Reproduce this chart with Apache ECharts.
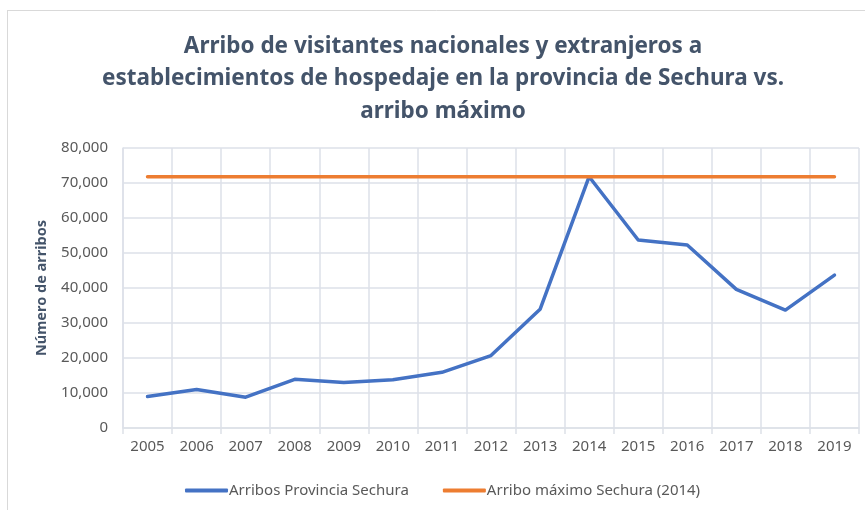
<!DOCTYPE html>
<html lang="es">
<head>
    <meta charset="UTF-8">
    <title>Arribos Sechura</title>
    <style>
        *{ padding:0; margin:0; }
        body{ background:#fff; }
    </style>
    <script src="https://cdn.jsdelivr.net/npm/echarts@6/dist/echarts.min.js"></script>
</head>
<body>
    <div id="main" style="width:865px;height:510px;"></div>
    <script>
        var years = ['2005','2006','2007','2008','2009','2010','2011','2012','2013','2014','2015','2016','2017','2018','2019'];
        var arribos = [9000, 11000, 8800, 13900, 13000, 13800, 15900, 20700, 33900, 71800, 53700, 52300, 39600, 33700, 43700];
        var maximo = [71800, 71800, 71800, 71800, 71800, 71800, 71800, 71800, 71800, 71800, 71800, 71800, 71800, 71800, 71800];
        var font = 'Noto Sans';

        var myChart = echarts.init(document.getElementById('main'));
        var option = {
            backgroundColor: '#fff',
            title: {
                text: 'Arribo de visitantes nacionales y extranjeros a\nestablecimientos de hospedaje en la provincia de Sechura vs.\narribo máximo',
                left: 443,
                textAlign: 'center',
                top: 25,
                padding: [5, 0, 5, 0],
                textStyle: {
                    color: '#44546A',
                    fontFamily: font,
                    fontWeight: 'bold',
                    fontSize: 22.5,
                    lineHeight: 32.5
                }
            },
            legend: {
                bottom: 12,
                left: 185,
                padding: 0,
                itemGap: 34,
                itemWidth: 43,
                itemHeight: 4,
                icon: 'roundRect',
                textStyle: { color: '#595959', fontFamily: font, fontSize: 15, padding: [0, 0, 0, -4] },
                data: ['Arribos Provincia Sechura', 'Arribo máximo Sechura (2014)']
            },
            grid: {
                left: 123,
                right: 6,
                top: 148,
                bottom: 82,
                containLabel: false
            },
            xAxis: {
                type: 'category',
                data: years,
                boundaryGap: true,
                axisLine: { show: true, lineStyle: { color: '#dde1e8', width: 1.5 } },
                axisTick: { show: true, length: 6, lineStyle: { color: '#dde1e8', width: 1.5 } },
                splitLine: { show: true, lineStyle: { color: '#dde1e8', width: 1.5 } },
                axisLabel: { color: '#595959', fontFamily: font, fontSize: 15, margin: 11 }
            },
            yAxis: {
                type: 'value',
                min: 0,
                max: 80000,
                interval: 10000,
                name: 'Número de arribos',
                nameLocation: 'middle',
                nameGap: 74,
                nameTextStyle: { color: '#44546A', fontFamily: font, fontWeight: 'bold', fontSize: 14.5 },
                axisLine: { show: true, lineStyle: { color: '#dde1e8', width: 1.5 } },
                axisTick: { show: false },
                splitLine: { lineStyle: { color: '#dde1e8', width: 1.5 } },
                axisLabel: {
                    color: '#595959', fontFamily: font, fontSize: 15, margin: 15,
                    formatter: function (v) { return v.toLocaleString('en-US'); }
                }
            },
            series: [
                {
                    name: 'Arribos Provincia Sechura',
                    type: 'line',
                    data: arribos,
                    symbol: 'none',
                    color: '#4472C4',
                    lineStyle: { width: 3.5, color: '#4472C4', cap: 'round', join: 'round' }
                },
                {
                    name: 'Arribo máximo Sechura (2014)',
                    type: 'line',
                    data: maximo,
                    symbol: 'none',
                    color: '#ED7D31',
                    lineStyle: { width: 3.5, color: '#ED7D31', cap: 'round' }
                }
            ],
            graphic: [
                { type: 'line', shape: { x1: 7.5, y1: 10, x2: 7.5, y2: 510 }, style: { stroke: '#d9d9d9', lineWidth: 1 } },
                { type: 'line', shape: { x1: 7.5, y1: 10.5, x2: 865, y2: 10.5 }, style: { stroke: '#d9d9d9', lineWidth: 1 } }
            ]
        };
        myChart.setOption(option);
    </script>
</body>
</html>
